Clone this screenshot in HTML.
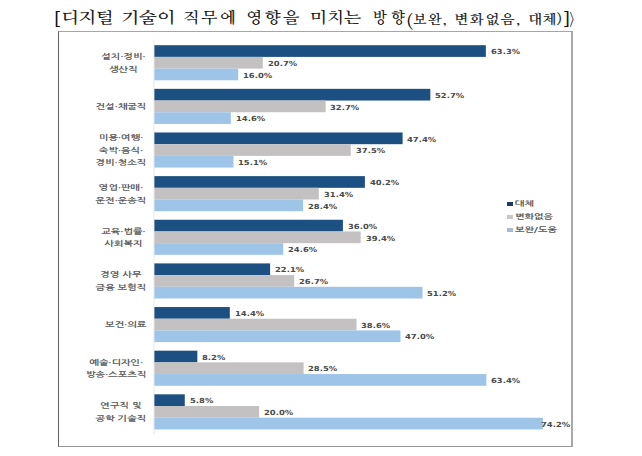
<!DOCTYPE html>
<html><head><meta charset="utf-8"><style>
html,body{margin:0;padding:0;background:#fff;}
body{width:642px;height:456px;position:relative;overflow:hidden;}
.t{position:absolute;font-family:"NanumMyeongjo","Noto Serif CJK SC",serif;color:#111;text-shadow:0.35px 0 0 rgba(17,17,17,0.6);white-space:nowrap;line-height:30px;transform-origin:0 50%;}
.box{position:absolute;left:58px;top:31px;width:512px;height:414px;border:1px solid #a6a6a6;border-left-color:#606060;border-right:2px solid #a8a8a8;border-bottom-color:#959595;}
svg{position:absolute;left:0;top:0;}
.c{position:absolute;right:496px;font-family:"NanumGothic","Noto Sans CJK KR",sans-serif;font-weight:bold;font-size:7.5px;line-height:12.5px;text-align:center;color:#5a5a5a;white-space:nowrap;transform:scaleX(1.36);transform-origin:100% 50%;}
.v{position:absolute;font-family:"DejaVu Sans","Liberation Sans",sans-serif;font-weight:bold;font-size:7px;line-height:12px;color:#4a4a4a;white-space:nowrap;transform:scaleX(1.2);transform-origin:0 50%;}
.lg{position:absolute;left:514.5px;font-family:"NanumGothic","Noto Sans CJK KR",sans-serif;font-weight:bold;font-size:7px;line-height:13px;color:#555;white-space:nowrap;transform:scaleX(1.45);transform-origin:0 50%;}
.sq{position:absolute;left:507px;width:6px;height:4px;}
</style></head><body>
<div class="t" style="left:54.20px;top:6.00px;font-size:18.5px;font-weight:bold;letter-spacing:0.00px;transform:scaleX(0.850)">[</div><div class="t" style="left:60.60px;top:3.20px;font-size:16px;letter-spacing:-0.10px;transform:scaleX(1.148)">디지털</div><div class="t" style="left:121.45px;top:3.20px;font-size:16px;letter-spacing:0.14px;transform:scaleX(1.173)">기술이</div><div class="t" style="left:183.43px;top:3.20px;font-size:16px;letter-spacing:2.24px;transform:scaleX(1.057)">직무에</div><div class="t" style="left:246.41px;top:3.20px;font-size:16px;letter-spacing:2.51px;transform:scaleX(1.045)">영향을</div><div class="t" style="left:310.11px;top:3.20px;font-size:16px;letter-spacing:0.24px;transform:scaleX(1.093)">미치는</div><div class="t" style="left:372.70px;top:3.20px;font-size:16px;letter-spacing:4.67px;transform:scaleX(0.900)">방향</div><div class="t" style="left:405.50px;top:7.50px;font-size:17.5px;letter-spacing:0.00px;transform:scaleX(1.050)">(</div><div class="t" style="left:412.94px;top:5.30px;font-size:13.5px;letter-spacing:1.24px;transform:scaleX(1.058)">보완,</div><div class="t" style="left:454.12px;top:5.30px;font-size:13.5px;letter-spacing:1.46px;transform:scaleX(1.089)">변화없음,</div><div class="t" style="left:528.19px;top:5.30px;font-size:13.5px;letter-spacing:0.05px;transform:scaleX(1.110)">대체)</div><div class="t" style="left:563.90px;top:6.00px;font-size:18.5px;font-weight:bold;letter-spacing:0.00px;transform:scaleX(0.850)">]</div><div class="t" style="left:570.20px;top:5.00px;font-size:16px;font-weight:bold;letter-spacing:0.00px;transform:scaleX(0.500)">〉</div>
<div class="box"></div>
<svg width="642" height="456" viewBox="0 0 642 456">
<line x1="154" y1="40" x2="154" y2="434" stroke="#e8e8e8" stroke-width="1"/>
<rect x="154.40" y="45.20" width="331.44" height="11.70" fill="#1c5082"/><rect x="154.40" y="56.90" width="108.39" height="11.70" fill="#c3c1c1"/><rect x="154.40" y="68.60" width="83.78" height="11.70" fill="#9ec4e8"/><rect x="154.40" y="88.84" width="275.94" height="11.70" fill="#1c5082"/><rect x="154.40" y="100.54" width="171.22" height="11.70" fill="#c3c1c1"/><rect x="154.40" y="112.24" width="76.45" height="11.70" fill="#9ec4e8"/><rect x="154.40" y="132.48" width="248.19" height="11.70" fill="#1c5082"/><rect x="154.40" y="144.18" width="196.35" height="11.70" fill="#c3c1c1"/><rect x="154.40" y="155.88" width="79.06" height="11.70" fill="#9ec4e8"/><rect x="154.40" y="176.12" width="210.49" height="11.70" fill="#1c5082"/><rect x="154.40" y="187.82" width="164.41" height="11.70" fill="#c3c1c1"/><rect x="154.40" y="199.52" width="148.70" height="11.70" fill="#9ec4e8"/><rect x="154.40" y="219.76" width="188.50" height="11.70" fill="#1c5082"/><rect x="154.40" y="231.46" width="206.30" height="11.70" fill="#c3c1c1"/><rect x="154.40" y="243.16" width="128.81" height="11.70" fill="#9ec4e8"/><rect x="154.40" y="263.40" width="115.72" height="11.70" fill="#1c5082"/><rect x="154.40" y="275.10" width="139.80" height="11.70" fill="#c3c1c1"/><rect x="154.40" y="286.80" width="268.08" height="11.70" fill="#9ec4e8"/><rect x="154.40" y="307.04" width="75.40" height="11.70" fill="#1c5082"/><rect x="154.40" y="318.74" width="202.11" height="11.70" fill="#c3c1c1"/><rect x="154.40" y="330.44" width="246.09" height="11.70" fill="#9ec4e8"/><rect x="154.40" y="350.68" width="42.94" height="11.70" fill="#1c5082"/><rect x="154.40" y="362.38" width="149.23" height="11.70" fill="#c3c1c1"/><rect x="154.40" y="374.08" width="331.96" height="11.70" fill="#9ec4e8"/><rect x="154.40" y="394.32" width="30.37" height="11.70" fill="#1c5082"/><rect x="154.40" y="406.02" width="104.72" height="11.70" fill="#c3c1c1"/><rect x="154.40" y="417.72" width="388.51" height="11.70" fill="#9ec4e8"/>
</svg>
<div class="c" style="top:51.25px">설치·정비·<br>생산직</div><div class="c" style="top:101.14px">건설·채굴직</div><div class="c" style="top:132.28px">미용·여행·<br>숙박·음식·<br>경비·청소직</div><div class="c" style="top:182.17px">영업·판매·<br>운전·운송직</div><div class="c" style="top:225.81px">교육·법률·<br>사회복지</div><div class="c" style="top:269.45px">경영 사무<br>금융 보험직</div><div class="c" style="top:319.34px">보건·의료</div><div class="c" style="top:356.73px">예술·디자인·<br>방송·스포츠직</div><div class="c" style="top:400.37px">연구직 및<br>공학 기술직</div>
<div class="v" style="left:490.64px;top:46.25px">63.3%</div><div class="v" style="left:267.59px;top:57.95px">20.7%</div><div class="v" style="left:242.98px;top:69.65px">16.0%</div><div class="v" style="left:435.14px;top:89.89px">52.7%</div><div class="v" style="left:330.42px;top:101.59px">32.7%</div><div class="v" style="left:235.65px;top:113.29px">14.6%</div><div class="v" style="left:407.39px;top:133.53px">47.4%</div><div class="v" style="left:355.55px;top:145.23px">37.5%</div><div class="v" style="left:238.26px;top:156.93px">15.1%</div><div class="v" style="left:369.69px;top:177.17px">40.2%</div><div class="v" style="left:323.61px;top:188.87px">31.4%</div><div class="v" style="left:307.90px;top:200.57px">28.4%</div><div class="v" style="left:347.70px;top:220.81px">36.0%</div><div class="v" style="left:365.50px;top:232.51px">39.4%</div><div class="v" style="left:288.01px;top:244.21px">24.6%</div><div class="v" style="left:274.92px;top:264.45px">22.1%</div><div class="v" style="left:299.00px;top:276.15px">26.7%</div><div class="v" style="left:427.28px;top:287.85px">51.2%</div><div class="v" style="left:234.60px;top:308.09px">14.4%</div><div class="v" style="left:361.31px;top:319.79px">38.6%</div><div class="v" style="left:405.29px;top:331.49px">47.0%</div><div class="v" style="left:202.14px;top:351.73px">8.2%</div><div class="v" style="left:308.43px;top:363.43px">28.5%</div><div class="v" style="left:491.16px;top:375.13px">63.4%</div><div class="v" style="left:189.57px;top:395.37px">5.8%</div><div class="v" style="left:263.92px;top:407.07px">20.0%</div><div class="v" style="left:540.60px;top:418.77px">74.2%</div>
<div class="sq" style="top:202px;background:#1f3a5c"></div>
<div class="sq" style="top:214.5px;background:#c8c8c8"></div>
<div class="sq" style="top:227.5px;background:#a9b9d0"></div>
<div class="lg" style="top:197px">대체</div>
<div class="lg" style="top:210px">변화없음</div>
<div class="lg" style="top:223px">보완/도움</div>
</body></html>
